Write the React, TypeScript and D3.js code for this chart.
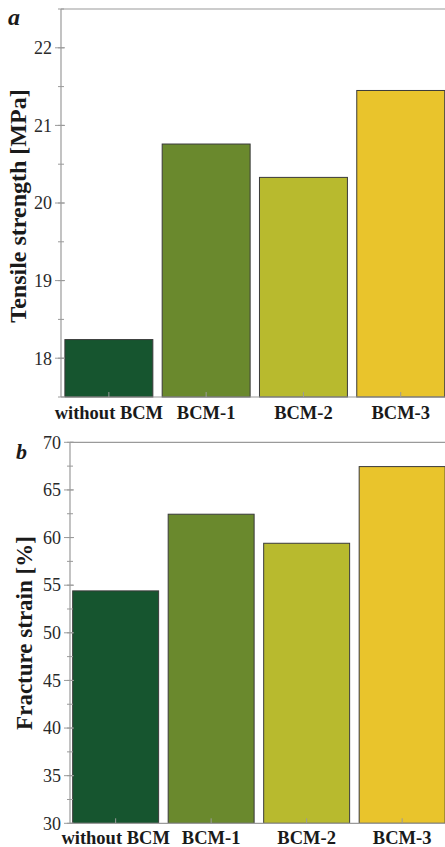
import React from "react";
import * as d3 from "d3";

const categories = ["without BCM", "BCM-1", "BCM-2", "BCM-3"];
const tensileStrength = [18.24, 20.76, 20.33, 21.45];
const fractureStrain = [54.4, 62.45, 59.4, 67.45];
const barColors = ["#16552f", "#6a892d", "#b8ba2e", "#e9c42c"];
const tensileTicks = [18, 19, 20, 21, 22];
const strainTicks = [30, 35, 40, 45, 50, 55, 60, 65, 70];

const W = 445;
const H = 847;
const SERIF = "'Liberation Serif', 'Times New Roman', serif";
const AXIS = "#9a9a9a";

type PanelProps = {
  values: number[];
  domain: [number, number];
  yRange: [number, number];
  xRange: [number, number];
  paddingInner: number;
  paddingOuter: number;
  ticks: number[];
  minorStep: number;
  title: string;
  titleX: number;
  titleY: number;
  titleSize: number;
  letter: string;
  letterX: number;
  letterY: number;
  letterSize: number;
  catBaseline: number;
};

function Panel(p: PanelProps) {
  const y = d3.scaleLinear().domain(p.domain).range(p.yRange);
  const x = d3
    .scaleBand<string>()
    .domain(categories)
    .range(p.xRange)
    .paddingInner(p.paddingInner)
    .paddingOuter(p.paddingOuter);
  const x0 = p.xRange[0];
  const [yb, yt] = p.yRange;
  const minors = d3.range(p.domain[0], p.domain[1] + 1e-9, p.minorStep);
  return (
    <g>
      {categories.map((c, i) => (
        <rect
          key={c}
          x={x(c)!}
          y={y(p.values[i])}
          width={x.bandwidth()}
          height={yb - y(p.values[i])}
          fill={barColors[i]}
          stroke="#3a3a3a"
          strokeWidth={1}
        />
      ))}
      <line x1={x0} x2={W} y1={yt} y2={yt} stroke={AXIS} strokeWidth={1.2} />
      <line x1={x0} x2={W} y1={yb} y2={yb} stroke={AXIS} strokeWidth={1.2} />
      <line x1={x0} x2={x0} y1={yt} y2={yb} stroke={AXIS} strokeWidth={1.2} />
      {minors.map((v) => (
        <line key={"m" + v} x1={x0 - 3} x2={x0 + 3} y1={y(v)} y2={y(v)} stroke={AXIS} strokeWidth={1} />
      ))}
      {p.ticks.map((v) => (
        <g key={"t" + v}>
          <line x1={x0 - 6} x2={x0 + 4} y1={y(v)} y2={y(v)} stroke={AXIS} strokeWidth={1} />
          <text
            x={x0 - 9}
            y={y(v)}
            dy="0.35em"
            textAnchor="end"
            fontFamily={SERIF}
            fontSize={18}
            fill="#2a2a2a"
          >
            {v}
          </text>
        </g>
      ))}
      {categories.map((c) => {
        const cx = x(c)! + x.bandwidth() / 2;
        return (
          <g key={"c" + c}>
            <line x1={cx} x2={cx} y1={yb} y2={yb - 5} stroke={AXIS} strokeWidth={1} />
            <text
              x={cx}
              y={p.catBaseline}
              textAnchor="middle"
              fontFamily={SERIF}
              fontWeight="bold"
              fontSize={18.5}
              fill="#1a1a1a"
            >
              {c}
            </text>
          </g>
        );
      })}
      <text
        transform={`translate(${p.titleX},${p.titleY}) rotate(-90)`}
        textAnchor="middle"
        fontFamily={SERIF}
        fontWeight="bold"
        fontSize={p.titleSize}
        fill="#1a1a1a"
      >
        {p.title}
      </text>
      <text
        x={p.letterX}
        y={p.letterY}
        fontFamily={SERIF}
        fontWeight="bold"
        fontStyle="italic"
        fontSize={p.letterSize}
        fill="#1a1a1a"
      >
        {p.letter}
      </text>
    </g>
  );
}

export default function App() {
  return (
    <svg
      width={W}
      height={H}
      viewBox={`0 0 ${W} ${H}`}
      style={{ position: "absolute", left: 0, top: 0, background: "#ffffff" }}
    >
      <Panel
        values={tensileStrength}
        domain={[17.5, 22.5]}
        yRange={[397, 9]}
        xRange={[61, 448.6]}
        paddingInner={0.096}
        paddingOuter={0.04}
        ticks={tensileTicks}
        minorStep={0.5}
        title="Tensile strength [MPa]"
        titleX={26}
        titleY={206}
        titleSize={24}
        letter="a"
        letterX={8}
        letterY={25}
        letterSize={24}
        catBaseline={419}
      />
      <Panel
        values={fractureStrain}
        domain={[30, 70]}
        yRange={[823.3, 442.3]}
        xRange={[70, 447.8]}
        paddingInner={0.1}
        paddingOuter={0.028}
        ticks={strainTicks}
        minorStep={2.5}
        title="Fracture strain [%]"
        titleX={32}
        titleY={633}
        titleSize={23}
        letter="b"
        letterX={16}
        letterY={459}
        letterSize={22}
        catBaseline={844}
      />
    </svg>
  );
}
